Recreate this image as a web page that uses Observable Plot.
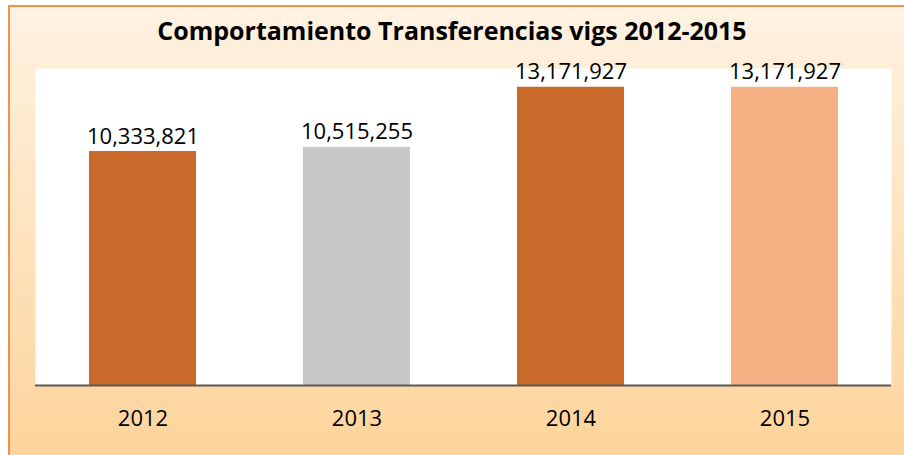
<!DOCTYPE html>
<html>
<head>
<meta charset="utf-8">
<script src="https://cdn.jsdelivr.net/npm/d3@7"></script>
<script src="https://cdn.jsdelivr.net/npm/@observablehq/plot@0.6"></script>
<style>
  html, body { margin: 0; padding: 0; background: #ffffff; }
  #wrap {
    position: absolute; left: 8px; top: 5px; width: 910px; height: 448px;
    border-left: 2px solid #F3914A; border-top: 2px solid #F3914A;
    background: linear-gradient(to bottom, #FEF2E2 0%, #FDD49B 100%);
  }
  #title {
    position: absolute; left: 0; top: 13px; width: 904px; text-align: center;
    font-family: "Open Sans", sans-serif; font-weight: bold; font-size: 25px; line-height: 34px; color: #000;
    margin: 0;
  }
  #chart { position: absolute; left: 0; top: 0; }
</style>
</head>
<body>
<div id="wrap"></div>
<div id="title">Comportamiento Transferencias vigs 2012-2015</div>
<div id="chart"></div>
<script>
const years = ["2012", "2013", "2014", "2015"];
const values = [10333821, 10515255, 13171927, 13171927];
const colors = ["#C96A2A", "#C8C8C8", "#C96A2A", "#F4B183"];

const data = years.map((y, i) => ({year: y, value: values[i], color: colors[i]}));
const fmt = d3.format(",");

const chart = Plot.plot({
  width: 904,
  height: 455,
  marginTop: 68,
  marginBottom: 70,
  marginLeft: 35,
  marginRight: 13,
  style: {background: "transparent", fontFamily: "Open Sans, sans-serif", color: "#000"},
  x: {domain: years, paddingInner: 0.5, paddingOuter: 0.25, label: null, axis: null},
  y: {domain: [0, 14000000], axis: null},
  marks: [
    Plot.frame({fill: "white", stroke: null}),
    Plot.barY(data, {x: "year", y: "value", fill: "color"}),
    Plot.text(data, {x: "year", y: "value", text: d => fmt(d.value), dy: -15, fontSize: 22, fill: "#000"}),
    Plot.ruleY([0], {stroke: "#595959", strokeWidth: 2}),
    Plot.axisX({tickSize: 0, tickPadding: 25, fontSize: 22, fill: "#000", label: null})
  ]
});
document.getElementById("chart").appendChild(chart);
</script>
</body>
</html>
